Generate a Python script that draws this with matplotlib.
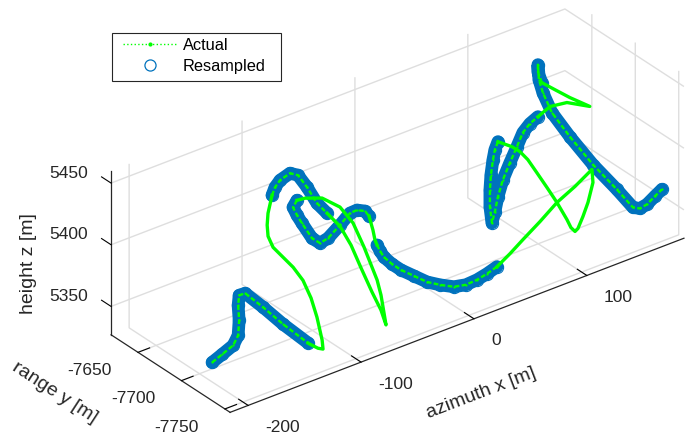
# %%

import matplotlib
matplotlib.use('Agg')
import matplotlib.pyplot as plt
from matplotlib.lines import Line2D
from matplotlib.patches import Rectangle

plt.rcParams['font.family'] = ['Liberation Sans', 'DejaVu Sans']

# %%

# resampled stretches of the track, in metres
seg1_x = [-201.1, -192.3, -182.5, -178.1, -177.2, -178.1, -177.2, -171.9, -156.0, -138.3, -116.1]
seg1_y = [-7716] * 11
seg1_z = [5343.9, 5347.3, 5351.2, 5357.7, 5369.6, 5382.1, 5389.9, 5389.7, 5372.8, 5352.8, 5329.7]

seg2_x = [-132.7, -126.2, -117.9, -109.1, -102.0, -94.0, -85.2, -76.3]
seg2_y = [-7696, -7691, -7686, -7686, -7686, -7686, -7686, -7686]
seg2_z = [5446.2, 5448.1, 5448.6, 5451.2, 5447.1, 5434.6, 5418.5, 5407.3]

seg3_x = [-102.9, -106.4, -102.9, -98.5, -89.6, -82.5, -75.4, -64.8, -56.0, -49.8, -42.7, -39.1]
seg3_y = [-7686] * 12
seg3_z = [5427.1, 5422.7, 5415.0, 5407.0, 5391.7, 5385.2, 5386.7, 5393.6, 5400.2, 5400.5, 5397.2, 5391.9]

seg4_x = [-39.7, -44.7, -45.1, -41.8, -37.7, -30.0, -18.5, -7.0, 5.4, 16.0, 25.8, 34.6, 43.5]
seg4_y = [-7696, -7706, -7711, -7716, -7721, -7726, -7726, -7726, -7726, -7726, -7726, -7726, -7726]
seg4_z = [5373.2, 5374.7, 5372.2, 5367.7, 5363.8, 5358.5, 5349.6, 5343.2, 5337.3, 5335.2, 5335.8, 5337.6, 5340.2]

seg5_x = [90.5, 87.8, 86.1, 84.3, 83.4, 83.4, 85.2, 87.8, 90.5, 94.9, 101.1, 107.3, 112.6, 118.8, 125.9]
seg5_y = [-7666] * 15
seg5_z = [5397.5, 5391.9, 5384.4, 5372.9, 5361.0, 5347.3, 5333.6, 5341.6, 5352.9, 5365.1, 5376.7, 5387.5, 5397.1, 5402.2, 5405.3]

seg6_x = [129.4, 125.9, 125.9, 126.8, 130.3, 130.6, 138.8, 151.5, 165.1, 171.6, 173.9, 176.3, 179.5, 181.9]
seg6_y = [-7666, -7666, -7666, -7666, -7666, -7676, -7686, -7696, -7706, -7716, -7721, -7726, -7731, -7736]
seg6_z = [5431.7, 5441.8, 5447.5, 5435.1, 5423.3, 5411.6, 5393.8, 5371.3, 5350.9, 5338.7, 5339.3, 5344.1, 5351.8, 5358.9]

# actual track between the resampled stretches
gap1_x = [-116.1, -122.1, -118.9, -118.3, -119.1, -119.8, -121.2, -124.5, -129.4, -138.3, -143.3, -143.9, -144.7, -140.1, -132.7]
gap1_y = [-7716, -7726, -7731, -7736, -7736, -7731, -7726, -7721, -7716, -7716, -7711, -7706, -7706, -7701, -7696]
gap1_z = [5329.7, 5335.5, 5333.4, 5334.8, 5342.4, 5358.8, 5372.6, 5385.8, 5395.9, 5407.1, 5414.6, 5421.5, 5430.8, 5436.5, 5446.2]

gap2_x = [-76.3, -72.5, -70.4, -69.2, -67.2, -63.1, -62.5, -63.1, -62.7, -66.6, -68.6, -72.5, -80.7, -95.8, -102.9]
gap2_y = [-7686, -7696, -7706, -7716, -7726, -7731, -7736, -7731, -7726, -7716, -7706, -7696, -7686, -7686, -7686]
gap2_z = [5407.3, 5400.0, 5388.5, 5374.1, 5358.5, 5344.7, 5334.8, 5356.9, 5366.7, 5390.2, 5405.8, 5415.5, 5421.1, 5426.3, 5427.1]

gap3_x = [-39.1, -35.6, -33.8, -39.7]
gap3_y = [-7686, -7686, -7686, -7696]
gap3_z = [5391.9, 5379.3, 5370.6, 5373.2]

gap4_x = [43.5, 55.0, 66.5, 81.6, 96.6, 112.6, 127.6, 128.5, 124.1, 119.6, 115.2, 112.6, 109.0, 109.3, 104.3, 103.2, 101.9, 101.6, 102.3, 99.1, 90.5]
gap4_y = [-7726, -7726, -7726, -7726, -7726, -7726, -7726, -7726, -7726, -7726, -7726, -7726, -7726, -7721, -7716, -7706, -7696, -7686, -7676, -7671, -7666]
gap4_z = [5340.2, 5346.7, 5354.1, 5363.4, 5373.6, 5381.0, 5389.5, 5378.6, 5364.0, 5354.1, 5346.0, 5344.5, 5348.9, 5353.0, 5366.3, 5374.2, 5382.1, 5388.2, 5389.9, 5392.7, 5397.5]

gap5_x = [125.9, 136.5, 151.6, 171.9, 154.2, 140.9, 129.4]
gap5_y = [-7666] * 7
gap5_z = [5405.3, 5409.8, 5407.8, 5397.5, 5410.9, 5422.0, 5431.7]

x_ticks = [-200, -100, 0, 100]
y_ticks = [-7750, -7700, -7650]
z_ticks = [5350, 5400, 5450]

segs = [(seg1_x, seg1_y, seg1_z), (seg2_x, seg2_y, seg2_z), (seg3_x, seg3_y, seg3_z),
        (seg4_x, seg4_y, seg4_z), (seg5_x, seg5_y, seg5_z), (seg6_x, seg6_y, seg6_z)]
gaps = [(gap1_x, gap1_y, gap1_z), (gap2_x, gap2_y, gap2_z), (gap3_x, gap3_y, gap3_z),
        (gap4_x, gap4_y, gap4_z), (gap5_x, gap5_y, gap5_z)]

green = '#00ff00'
blue = '#0072bd'
dark = '#262626'

xmin, xmax = -216, 186
ymin, ymax = -7756, -7619
zmin, zmax = 5327, 5460

# %%

fig = plt.figure(figsize=(6.88, 4.34), dpi=100)
# matlab default view is az -37.5, el 30
ax = fig.add_axes([81.7 / 688, -86.3 / 434, 615 / 688, 615 / 434], projection='3d', proj_type='ortho')
ax.computed_zorder = False
ax.view_init(elev=30, azim=-127.5)
ax.set_box_aspect((572, 195.5, 189.4))
ax.set_xlim(xmin, xmax, view_margin=0)
ax.set_ylim(ymin, ymax, view_margin=0)
ax.set_zlim(zmin, zmax, view_margin=0)

for s in segs:
    ax.plot(s[0], s[1], s[2], color=blue, lw=9.2, solid_capstyle='round', solid_joinstyle='round', zorder=2)
    ax.plot(s[0], s[1], s[2], ls='none', marker='o', ms=8.8, mfc='none', mec=blue, mew=0.8, zorder=2)
for s in segs:
    ax.plot(s[0], s[1], s[2], color=green, lw=1.7, ls=(0, (2, 1)), marker='.', ms=3.2, mew=0, zorder=3)
for g in gaps:
    ax.plot(g[0], g[1], g[2], color=green, lw=2.4, solid_joinstyle='round', zorder=3)

ax.set_xticks(x_ticks)
ax.set_yticks(y_ticks)
ax.set_zticks(z_ticks)
ax.set_xticklabels([''] * len(x_ticks))
ax.set_yticklabels([''] * len(y_ticks))
ax.set_zticklabels([''] * len(z_ticks))

# z ticks point along y like matlab, not along x
ax.zaxis._get_tickdir = lambda pos=None: 1

for axis, out in ((ax.xaxis, 1.0), (ax.yaxis, 0.32), (ax.zaxis, 1.0)):
    axis.set_pane_color((1, 1, 1, 0))
    axis.pane.set_edgecolor((1, 1, 1, 0))
    axis.line.set_color(dark)
    axis.line.set_linewidth(0.9)
    axis._axinfo['grid'].update(color='#dedede', linewidth=1.0)
    axis._axinfo['tick'].update(inward_factor=0, outward_factor=out, color=dark, linewidth={True: 0.8, False: 0.8})

# tick labels and axis titles sit where matlab puts them, so they are placed by hand
for t in x_ticks:
    ax.text(t, ymin - 19.6, zmin - 8.8, str(t), ha='left', va='center', fontsize=12.5, color=dark)
for t in y_ticks:
    ax.text(xmin - 23, t, zmin - 6.6, str(t), ha='right', va='center', fontsize=12.5, color=dark)
for t in z_ticks:
    ax.text(xmin, ymax + 26.5, t - 4, str(t), ha='right', va='center', fontsize=12.5, color=dark)

# zdir gives the text its slope along the axis
ax.text(6.2, ymin, 5264.1, 'azimuth x [m]', zdir='x', rotation_mode='anchor',
        ha='center', va='center', fontsize=14, color=dark)
ax.text(xmin, -7554.5, 5250.2, 'range y [m]', zdir='y', rotation_mode='anchor',
        ha='center', va='center', fontsize=14, color=dark)
ax.text(xmin, -7523.4, 5340.5, 'height z [m]', zdir='z', rotation_mode='anchor',
        ha='center', va='center', fontsize=14, color=dark)

handles = [Line2D([], [], color=green, ls=':', lw=1, marker='.', ms=4),
           Line2D([], [], color=blue, ls='none', marker='o', ms=8, mfc='none', mew=0.9)]
leg = ax.legend(handles, ['Actual', 'Resampled'], loc='upper left',
                bbox_to_anchor=(118 / 688, 1 - 33 / 434), bbox_transform=fig.transFigure,
                fontsize=11.8, frameon=False, numpoints=1, handlelength=3.25,
                handletextpad=0.4, labelspacing=0.35, borderpad=0.3, borderaxespad=0)
fig.add_artist(Rectangle((112 / 688, 1 - 81 / 434), 169 / 688, 48 / 434, transform=fig.transFigure,
                         fc='none', ec=dark, lw=0.8))

plt.savefig('out.png', dpi=100)
